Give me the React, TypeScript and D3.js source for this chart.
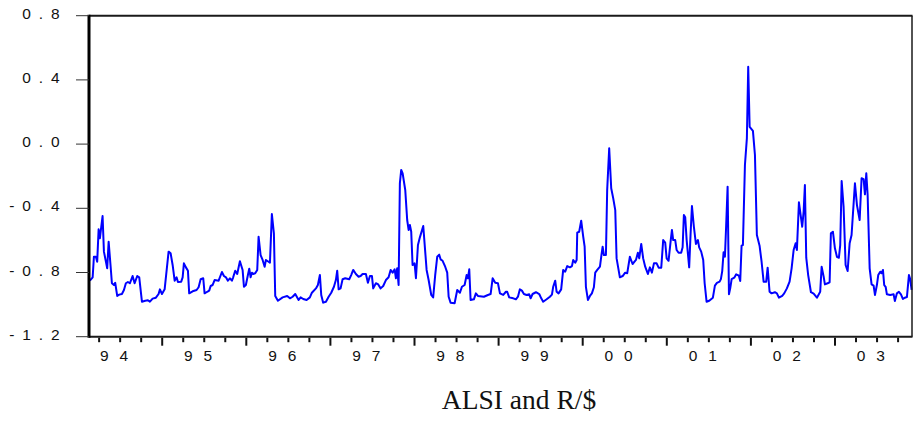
import React from 'react';
import * as d3 from 'd3';

// Observation dates (decimal years) and the plotted series values
const obsDates = [
  1994.140,1994.173,1994.188,1994.212,1994.227,1994.244,1994.259,1994.275,1994.291,1994.307,
  1994.331,1994.346,1994.363,1994.387,1994.402,1994.426,1994.441,1994.465,1994.489,1994.521,
  1994.545,1994.568,1994.592,1994.616,1994.648,1994.672,1994.703,1994.727,1994.759,1994.798,
  1994.830,1994.854,1994.886,1994.925,1994.957,1994.973,1994.997,1995.029,1995.076,1995.100,
  1995.124,1995.148,1995.171,1995.187,1995.226,1995.243,1995.258,1995.282,1995.306,1995.321,
  1995.362,1995.409,1995.433,1995.457,1995.488,1995.504,1995.535,1995.559,1995.576,1995.599,
  1995.623,1995.671,1995.710,1995.734,1995.758,1995.781,1995.805,1995.829,1995.844,1995.868,
  1995.892,1995.924,1995.956,1995.972,1995.995,1996.019,1996.035,1996.051,1996.067,1996.082,
  1996.106,1996.130,1996.146,1996.170,1996.194,1996.218,1996.233,1996.265,1996.281,1996.304,
  1996.328,1996.344,1996.376,1996.432,1996.486,1996.519,1996.551,1996.582,1996.622,1996.646,
  1996.677,1996.717,1996.756,1996.780,1996.828,1996.851,1996.875,1996.891,1996.914,1996.947,
  1996.979,1997.010,1997.042,1997.065,1997.081,1997.098,1997.121,1997.145,1997.176,1997.224,
  1997.247,1997.271,1997.303,1997.335,1997.359,1997.383,1997.422,1997.446,1997.470,1997.494,
  1997.509,1997.541,1997.565,1997.597,1997.628,1997.660,1997.692,1997.716,1997.740,1997.764,
  1997.779,1997.794,1997.811,1997.826,1997.842,1997.859,1997.890,1997.913,1997.930,1997.945,
  1997.961,1997.977,1998.001,1998.017,1998.041,1998.064,1998.104,1998.144,1998.168,1998.199,
  1998.222,1998.246,1998.270,1998.294,1998.310,1998.334,1998.365,1998.389,1998.406,1998.429,
  1998.477,1998.508,1998.540,1998.564,1998.596,1998.620,1998.635,1998.651,1998.667,1998.706,
  1998.730,1998.754,1998.825,1998.873,1998.905,1998.929,1998.960,1998.992,1999.016,1999.055,
  1999.087,1999.102,1999.126,1999.174,1999.206,1999.230,1999.253,1999.277,1999.301,1999.333,
  1999.364,1999.381,1999.404,1999.444,1999.483,1999.507,1999.530,1999.571,1999.610,1999.634,
  1999.649,1999.673,1999.690,1999.713,1999.744,1999.768,1999.792,1999.816,1999.848,1999.872,
  1999.887,1999.911,1999.928,1999.935,1999.958,1999.982,2000.006,2000.023,2000.038,2000.062,
  2000.086,2000.109,2000.133,2000.149,2000.173,2000.205,2000.220,2000.237,2000.252,2000.276,
  2000.291,2000.315,2000.339,2000.363,2000.387,2000.403,2000.442,2000.475,2000.505,2000.529,
  2000.561,2000.593,2000.633,2000.656,2000.672,2000.696,2000.719,2000.743,2000.775,2000.799,
  2000.823,2000.847,2000.879,2000.903,2000.934,2000.957,2000.981,2000.998,2001.021,2001.045,
  2001.061,2001.076,2001.100,2001.117,2001.140,2001.171,2001.188,2001.203,2001.219,2001.236,
  2001.266,2001.283,2001.299,2001.322,2001.346,2001.370,2001.385,2001.409,2001.433,2001.450,
  2001.473,2001.504,2001.548,2001.572,2001.596,2001.628,2001.643,2001.659,2001.675,2001.691,
  2001.706,2001.723,2001.739,2001.754,2001.771,2001.802,2001.825,2001.857,2001.873,2001.889,
  2001.905,2001.929,2001.952,2001.968,2001.985,2002.024,2002.048,2002.071,2002.103,2002.127,
  2002.151,2002.182,2002.199,2002.222,2002.246,2002.285,2002.309,2002.333,2002.372,2002.396,
  2002.428,2002.460,2002.484,2002.508,2002.532,2002.547,2002.571,2002.586,2002.610,2002.627,
  2002.642,2002.658,2002.681,2002.714,2002.746,2002.785,2002.824,2002.841,2002.865,2002.880,
  2002.912,2002.936,2002.951,2002.975,2002.999,2003.023,2003.046,2003.062,2003.079,2003.102,
  2003.126,2003.150,2003.174,2003.197,2003.237,2003.261,2003.293,2003.316,2003.340,2003.356,
  2003.372,2003.388,2003.412,2003.435,2003.459,2003.475,2003.498,2003.514,2003.538,2003.554,
  2003.570,2003.585,2003.602,2003.617,2003.656,2003.697,2003.712,2003.736,2003.760,2003.784,
  2003.807,2003.831,2003.855,2003.879,2003.894,2003.911,
];

const seriesValues = [
  -0.851,-0.830,-0.702,-0.702,-0.733,-0.531,-0.587,-0.518,-0.448,-0.670,
  -0.733,-0.774,-0.608,-0.764,-0.867,-0.878,-0.864,-0.946,-0.938,-0.934,
  -0.909,-0.867,-0.859,-0.867,-0.822,-0.867,-0.822,-0.830,-0.982,-0.976,
  -0.973,-0.982,-0.963,-0.957,-0.934,-0.905,-0.934,-0.905,-0.670,-0.680,
  -0.753,-0.851,-0.830,-0.859,-0.857,-0.830,-0.743,-0.768,-0.789,-0.930,
  -0.917,-0.909,-0.892,-0.842,-0.836,-0.930,-0.920,-0.913,-0.884,-0.878,
  -0.847,-0.851,-0.797,-0.822,-0.830,-0.851,-0.836,-0.851,-0.830,-0.789,
  -0.809,-0.730,-0.784,-0.889,-0.878,-0.816,-0.776,-0.830,-0.801,-0.809,
  -0.805,-0.784,-0.577,-0.691,-0.722,-0.764,-0.722,-0.733,-0.739,-0.436,
  -0.556,-0.946,-0.976,-0.955,-0.946,-0.961,-0.951,-0.934,-0.971,-0.955,
  -0.965,-0.971,-0.955,-0.926,-0.899,-0.878,-0.816,-0.940,-0.988,-0.982,
  -0.951,-0.926,-0.889,-0.847,-0.789,-0.905,-0.899,-0.842,-0.836,-0.842,
  -0.816,-0.784,-0.809,-0.826,-0.822,-0.809,-0.809,-0.864,-0.822,-0.822,
  -0.899,-0.867,-0.872,-0.899,-0.884,-0.847,-0.830,-0.784,-0.801,-0.780,
  -0.836,-0.774,-0.878,-0.244,-0.161,-0.182,-0.286,-0.473,-0.535,-0.504,
  -0.546,-0.753,-0.743,-0.836,-0.629,-0.581,-0.510,-0.784,-0.847,-0.940,
  -0.955,-0.816,-0.702,-0.689,-0.718,-0.727,-0.764,-0.801,-0.951,-0.988,
  -0.992,-0.909,-0.926,-0.889,-0.878,-0.816,-0.836,-0.780,-0.971,-0.967,
  -0.930,-0.946,-0.951,-0.940,-0.934,-0.836,-0.864,-0.867,-0.930,-0.940,
  -0.920,-0.920,-0.955,-0.961,-0.967,-0.951,-0.905,-0.913,-0.934,-0.940,
  -0.936,-0.961,-0.934,-0.923,-0.934,-0.961,-0.982,-0.967,-0.951,-0.938,
  -0.889,-0.851,-0.920,-0.930,-0.905,-0.784,-0.795,-0.760,-0.768,-0.760,
  -0.722,-0.739,-0.722,-0.552,-0.546,-0.477,-0.577,-0.639,-0.889,-0.971,
  -0.946,-0.930,-0.892,-0.801,-0.784,-0.764,-0.702,-0.639,-0.691,-0.691,
  -0.286,-0.026,-0.275,-0.338,-0.411,-0.712,-0.830,-0.822,-0.801,-0.805,
  -0.702,-0.747,-0.722,-0.677,-0.712,-0.622,-0.712,-0.764,-0.809,-0.768,
  -0.801,-0.743,-0.743,-0.770,-0.770,-0.598,-0.614,-0.712,-0.727,-0.608,
  -0.535,-0.598,-0.598,-0.660,-0.677,-0.677,-0.643,-0.442,-0.456,-0.598,
  -0.768,-0.556,-0.386,-0.515,-0.622,-0.598,-0.643,-0.670,-0.722,-0.867,
  -0.982,-0.976,-0.957,-0.882,-0.865,-0.857,-0.841,-0.791,-0.674,-0.702,
  -0.504,-0.265,-0.936,-0.899,-0.841,-0.832,-0.811,-0.820,-0.853,-0.633,
  -0.629,-0.130,0.036,0.482,0.108,0.082,-0.068,-0.566,-0.633,-0.733,
  -0.857,-0.857,-0.770,-0.920,-0.930,-0.923,-0.930,-0.957,-0.945,-0.930,
  -0.899,-0.857,-0.774,-0.660,-0.618,-0.660,-0.363,-0.421,-0.515,-0.421,
  -0.255,-0.708,-0.816,-0.923,-0.932,-0.957,-0.920,-0.764,-0.826,-0.874,
  -0.867,-0.861,-0.556,-0.546,-0.649,-0.702,-0.708,-0.629,-0.230,-0.390,
  -0.753,-0.791,-0.618,-0.566,-0.244,-0.380,-0.473,-0.213,-0.218,-0.313,
  -0.182,-0.317,-0.774,-0.874,-0.882,-0.940,-0.878,-0.816,-0.795,-0.805,
  -0.784,-0.878,-0.889,-0.936,-0.940,-0.936,-0.978,-0.930,-0.920,-0.936,
  -0.965,-0.957,-0.953,-0.816,-0.841,-0.909,
];

const yTickValues = [0.8, 0.4, 0.0, -0.4, -0.8, -1.2];
const years = [1994, 1995, 1996, 1997, 1998, 1999, 2000, 2001, 2002, 2003];
const yearLabels = ['94', '95', '96', '97', '98', '99', '00', '01', '02', '03'];
const quarterOffsets = [0, 0.25, 0.5, 0.75];
const chartTitle = 'ALSI and R/$';

const W = 913;
const H = 423;
const LEFT = 89;
const RIGHT = 912;
const TOP = 15.7;
const BOTTOM = 336.7;
const SANS = "'Liberation Sans', Arial, Helvetica, sans-serif";
const SERIF = "'Liberation Serif', 'Times New Roman', serif";

const spaced = (s: string) => s.split('').join(' ');

export default function App() {
  const x = d3.scaleLinear().domain([1994.1296, 2003.9155]).range([LEFT, RIGHT]);
  const y = d3.scaleLinear().domain([-1.2, 0.8]).range([BOTTOM, TOP]);

  const pts = seriesValues.map((v, i) => [obsDates[i], v] as [number, number]);
  const linePath = d3
    .line<[number, number]>()
    .x((d) => x(d[0]))
    .y((d) => y(d[1]))(pts) || '';

  const [d0, d1] = x.domain();
  const ticks: { t: number; major: boolean }[] = [];
  years.forEach((yr) => {
    quarterOffsets.forEach((q) => {
      const t = yr + q;
      if (t >= d0 && t <= d1) ticks.push({ t, major: q === 0 });
    });
  });

  return (
    <svg
      width={W}
      height={H}
      style={{ position: 'absolute', left: 0, top: 0, display: 'block', background: '#fff' }}
    >
      <rect x={0} y={0} width={W} height={H} fill="#fff" />
      {/* series */}
      <path d={linePath} fill="none" stroke="#0000ff" strokeWidth={2} strokeLinejoin="round" />

      {/* frame */}
      <line x1={LEFT} x2={RIGHT + 0.5} y1={TOP} y2={TOP} stroke="#1a1a1a" strokeWidth={2} />
      <line x1={RIGHT} x2={RIGHT} y1={TOP} y2={BOTTOM} stroke="#1a1a1a" strokeWidth={1.5} />
      <line x1={LEFT} x2={RIGHT + 0.5} y1={BOTTOM} y2={BOTTOM} stroke="#1a1a1a" strokeWidth={2} />
      <line x1={LEFT} x2={LEFT} y1={TOP - 1} y2={BOTTOM + 1} stroke="#000" strokeWidth={3} />

      {/* y ticks */}
      {yTickValues.map((v) => (
        <g key={'y' + v}>
          <line x1={76} x2={LEFT} y1={y(v)} y2={y(v)} stroke="#333" strokeWidth={1} />
          <text
            x={61.5}
            y={y(v) + 3}
            textAnchor="end"
            fontFamily={SANS}
            fontSize={15.5}
            letterSpacing={1.8}
            fill="#111"
          >
            {spaced(v.toFixed(1))}
          </text>
        </g>
      ))}

      {/* x ticks */}
      {ticks.map((tk) => (
        <line
          key={'x' + tk.t}
          x1={x(tk.t)}
          x2={x(tk.t)}
          y1={BOTTOM + 1}
          y2={BOTTOM + (tk.major ? 9 : 5.5)}
          stroke="#111"
          strokeWidth={2}
        />
      ))}
      {years.map((yr, i) => (
        <text
          key={'lbl' + yr}
          x={x(yr + 0.5) - 4.5}
          y={361}
          textAnchor="middle"
          fontFamily={SANS}
          fontSize={15.5}
          letterSpacing={3.3}
          fill="#111"
        >
          {spaced(yearLabels[i])}
        </text>
      ))}

      {/* title */}
      <text x={519} y={409} textAnchor="middle" fontFamily={SERIF} fontSize={27.5} fill="#111">
        {chartTitle}
      </text>
    </svg>
  );
}
